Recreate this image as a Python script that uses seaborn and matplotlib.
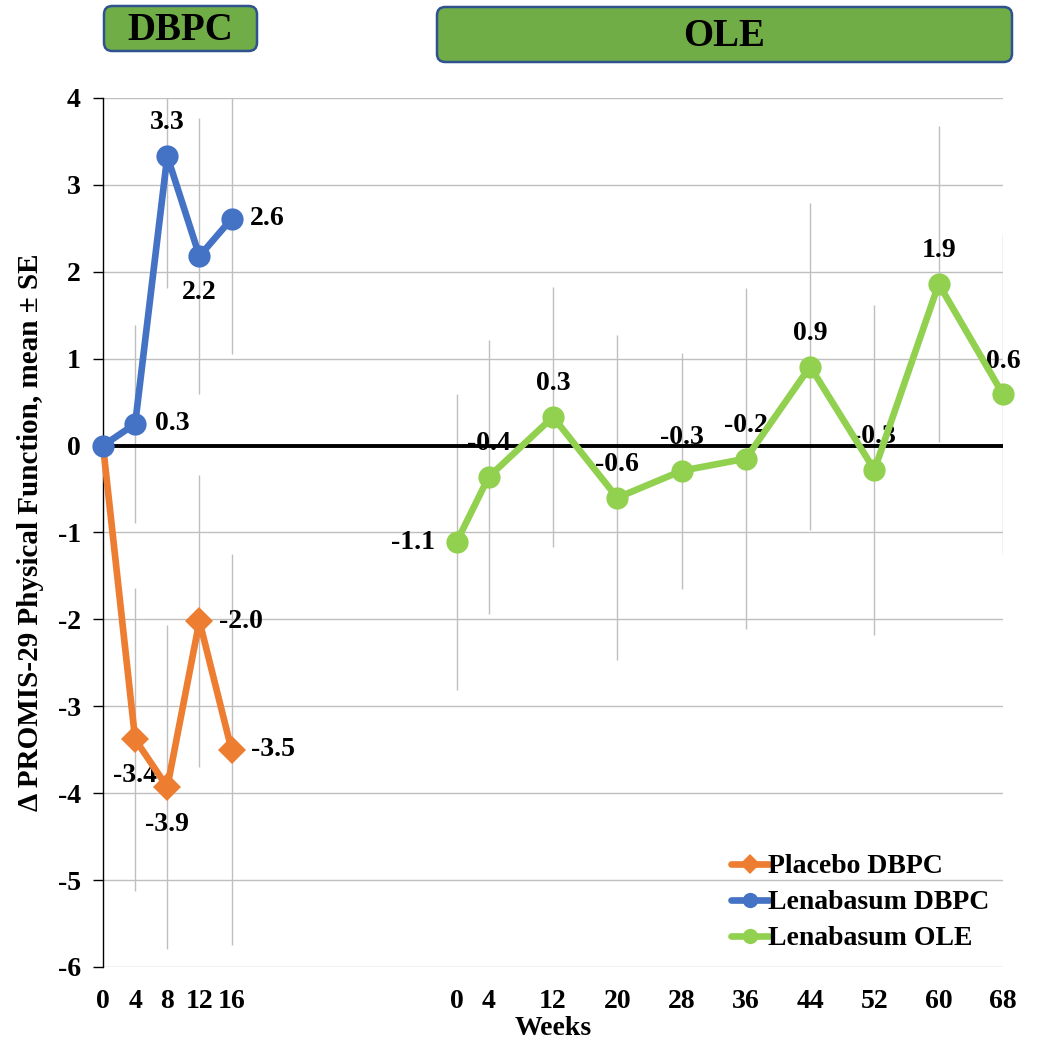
import numpy as np
import pandas as pd
import seaborn as sns
import matplotlib.pyplot as plt
from matplotlib.patches import FancyBboxPatch
from matplotlib.lines import Line2D

# Данные (недели, среднее изменение, стандартная ошибка)
dbpc_weeks = [0, 4, 8, 12, 16]
placebo_mean = [0.0, -3.38, -3.93, -2.02, -3.50]
placebo_se = [0.0, 1.74, 1.86, 1.68, 2.25]
lena_dbpc_mean = [0.0, 0.25, 3.33, 2.18, 2.61]
lena_dbpc_se = [0.0, 1.14, 1.52, 1.59, 1.56]

ole_weeks = [0, 4, 12, 20, 28, 36, 44, 52, 60, 68]
lena_ole_mean = [-1.11, -0.36, 0.33, -0.60, -0.29, -0.15, 0.91, -0.28, 1.86, 0.59]
lena_ole_se = [1.70, 1.58, 1.50, 1.87, 1.36, 1.96, 1.88, 1.90, 1.82, 1.84]

placebo_labels = [None, '-3.4', '-3.9', '-2.0', '-3.5']
lena_dbpc_labels = [None, '0.3', '3.3', '2.2', '2.6']
ole_labels = ['-1.1', '-0.4', '0.3', '-0.6', '-0.3', '-0.2', '0.9', '-0.3', '1.9', '0.6']

series_names = ['Placebo DBPC', 'Lenabasum DBPC', 'Lenabasum OLE']
colors = ['#ED7D31', '#4472C4', '#92D050']

# Ось X: один слот = 4 недели, OLE начинается со слота 11
OLE_OFFSET = 11
dbpc_x = np.array(dbpc_weeks) / 4
ole_x = np.array(ole_weeks) / 4 + OLE_OFFSET

sns.set_style('white')
plt.rcParams['font.family'] = ['Liberation Serif', 'DejaVu Serif']
plt.rcParams['font.weight'] = 'bold'
plt.rcParams['axes.unicode_minus'] = False
for k in ['text.color', 'axes.labelcolor', 'xtick.color', 'ytick.color']:
    plt.rcParams[k] = 'black'

FS = 20

fig = plt.figure(figsize=(10.4, 10.4), dpi=100)
ax = fig.add_axes([103 / 1040, 1 - 967 / 1040, 900 / 1040, 869 / 1040])

df_pl = pd.DataFrame({'x': dbpc_x, 'y': placebo_mean})
df_ld = pd.DataFrame({'x': dbpc_x, 'y': lena_dbpc_mean})
df_ole = pd.DataFrame({'x': ole_x, 'y': lena_ole_mean})

# сетка и нулевая линия
for yv in range(-6, 5):
    ax.axhline(yv, color='#BFBFBF', lw=1, zorder=0)
ax.axhline(0, color='black', lw=2.8, zorder=2.6)

# планки погрешностей
def err(x, m, s):
    m = np.array(m); s = np.array(s)
    keep = s > 0
    ax.vlines(np.array(x)[keep], (m - s)[keep], (m + s)[keep], color='#BFBFBF', lw=1, zorder=1)

err(dbpc_x, placebo_mean, placebo_se)
err(dbpc_x, lena_dbpc_mean, lena_dbpc_se)
err(ole_x, lena_ole_mean, lena_ole_se)

line_kw = dict(linewidth=4.8, markeredgewidth=0, ax=ax, legend=False, zorder=3)
sns.lineplot(data=df_pl, x='x', y='y', color=colors[0], marker='D', markersize=14,
             markevery=[1, 2, 3, 4], **line_kw)
sns.lineplot(data=df_ld, x='x', y='y', color=colors[1], marker='o', markersize=16, **line_kw)
sns.lineplot(data=df_ole, x='x', y='y', color=colors[2], marker='o', markersize=16, **line_kw)
for l in ax.lines:
    if l.get_color() in colors:
        l.set_clip_on(False)

# подписи значений
def annotate(xs, ys, labels, offsets):
    for x, y, t, off in zip(xs, ys, labels, offsets):
        if t is None:
            continue
        dx, dy, ha = off
        ax.annotate(t, (x, y), xytext=(dx, dy), textcoords='offset pixels',
                    ha=ha, va='center', fontsize=FS, fontweight='bold', zorder=2.5)

annotate(dbpc_x, lena_dbpc_mean, lena_dbpc_labels,
         [None, (20, 0, 'left'), (0, 34, 'center'), (0, -36, 'center'), (18, 0, 'left')])
annotate(dbpc_x, placebo_mean, placebo_labels,
         [None, (0, -36, 'center'), (0, -37, 'center'), (20, 0, 'left'), (19, 0, 'left')])
annotate(ole_x, lena_ole_mean, ole_labels,
         [(-22, 0, 'right')] + [(0, 33, 'center')] * 9)

ax.set_xlim(0, 28)
ax.set_ylim(-6, 4)
ax.set_yticks(range(-6, 5))
ax.set_xticks(list(dbpc_x) + list(ole_x))
ax.set_xticklabels([str(w) for w in dbpc_weeks] + [str(w) for w in ole_weeks])
ax.tick_params(axis='y', direction='out', length=7, width=1, color='black', labelsize=FS, pad=9, left=True)
ax.tick_params(axis='x', length=0, labelsize=FS, pad=16)
for s in ['top', 'right', 'bottom']:
    ax.spines[s].set_visible(False)
ax.spines['left'].set_color('black')
ax.spines['left'].set_linewidth(1)
ax.set_xlabel('Weeks', fontsize=FS, fontweight='bold', labelpad=1)
ax.set_ylabel('Δ PROMIS-29 Physical Function, mean ± SE', fontsize=21, fontweight='bold', labelpad=10)

# легенда
handles = [Line2D([], [], color=colors[0], lw=4.8, marker='D', markersize=10, markeredgewidth=0),
           Line2D([], [], color=colors[1], lw=4.8, marker='o', markersize=11, markeredgewidth=0),
           Line2D([], [], color=colors[2], lw=4.8, marker='o', markersize=11, markeredgewidth=0)]
ax.legend(handles, series_names, loc='upper left', bbox_to_anchor=(731 / 1040, 1 - 854 / 1040),
          bbox_transform=fig.transFigure, frameon=False, fontsize=FS, handlelength=1.35,
          handletextpad=0.0, labelspacing=0.38, borderpad=0, borderaxespad=0)

# заголовки периодов
for (x0, y0, x1, y1, txt) in [(104, 6, 257, 51, 'DBPC'), (437, 7, 1012, 62, 'OLE')]:
    box = FancyBboxPatch((x0 / 1040, 1 - y1 / 1040), (x1 - x0) / 1040, (y1 - y0) / 1040,
                         boxstyle='round,pad=0,rounding_size=0.008', transform=fig.transFigure,
                         facecolor='#70AD47', edgecolor='#2F528F', lw=1.8)
    fig.patches.append(box)
    fig.text((x0 + x1) / 2 / 1040, 1 - (y0 + y1) / 2 / 1040 - 0.002, txt, ha='center', va='center',
             fontsize=28, fontweight='bold')

fig.savefig('out.png', dpi=100)
